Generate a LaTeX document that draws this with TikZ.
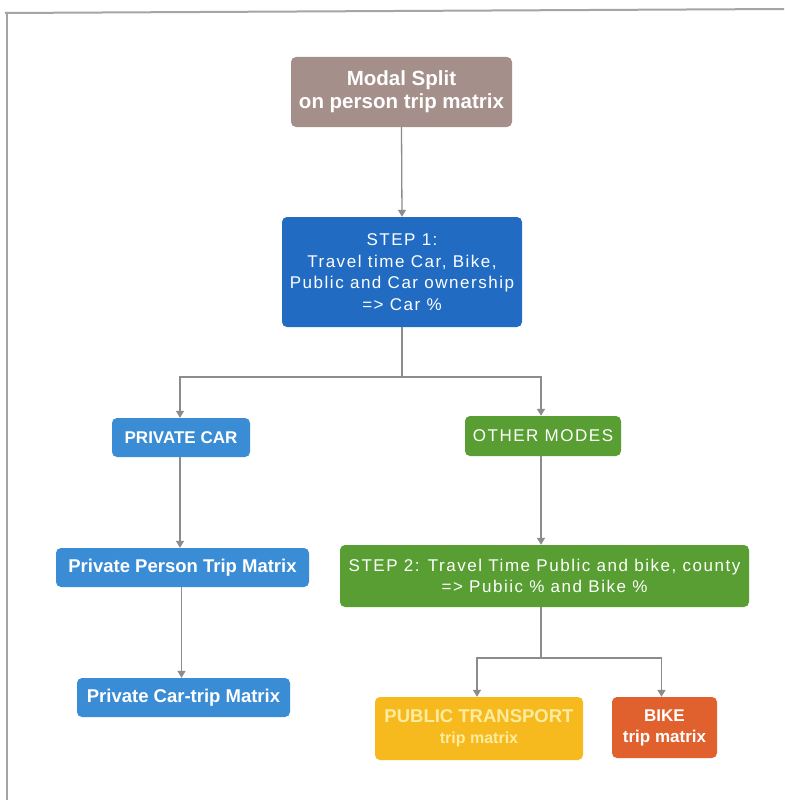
\documentclass[tikz,border=0pt]{standalone}
\usepackage{fontspec}
\setmainfont{Liberation Sans}
\newfontfamily\spacedfont[LetterSpace=9]{Liberation Sans}
\usetikzlibrary{arrows.meta,positioning}
\definecolor{taupe}{RGB}{164,143,138}
\definecolor{darkblue}{RGB}{33,108,194}
\definecolor{lightblue}{RGB}{58,141,213}
\definecolor{grn}{RGB}{88,158,50}
\definecolor{yel}{RGB}{247,186,30}
\definecolor{yeltext}{RGB}{253,236,160}
\definecolor{orng}{RGB}{224,96,46}
\definecolor{conn}{RGB}{140,140,140}
\definecolor{frame}{RGB}{165,165,165}
\begin{document}
\begin{tikzpicture}[x=1pt,y=-1pt,
  box/.style={rounded corners=5pt, inner sep=0pt, align=center, text=white},
  boldtext/.style={font=\fontsize{18.5}{21}\selectfont\bfseries},
  regtext/.style={font=\fontsize{17}{21.5}\selectfont\spacedfont},
  link/.style={draw=conn, line width=1.3pt, -{Triangle[width=8pt,length=7pt]}},
  plain/.style={draw=conn, line width=1.3pt}]
\useasboundingbox (0,0) rectangle (784,800);
\fill[white] (0,0) rectangle (784,800);
% frame
\draw[frame, line width=2pt] (5,13) -- (784,9);
\draw[frame, line width=2pt] (7,13) -- (7,800);
% nodes
\node[box, fill=taupe, minimum width=221pt, minimum height=70pt,
  font=\fontsize{20.5}{23}\selectfont\bfseries] (modal) at (401.5,92) {Modal Split\\on person trip matrix};
\node[box, fill=darkblue, minimum width=240pt, minimum height=110pt, regtext] (step1) at (402,272)
  {STEP 1:\\Travel time Car, Bike,\\Public and Car ownership\\=> Car \%};
\node[box, fill=lightblue, minimum width=138pt, minimum height=39pt,
  font=\fontsize{17}{20}\selectfont\bfseries] (pcar) at (181,437.5) {PRIVATE CAR};
\node[box, fill=grn, minimum width=156pt, minimum height=40pt, regtext] (other) at (543,436) {OTHER MODES};
\node[box, fill=lightblue, minimum width=253pt, minimum height=39pt, boldtext] (ppt) at (182.5,567.5) {Private Person Trip Matrix};
\node[box, fill=grn, minimum width=409pt, minimum height=62pt, regtext] (step2) at (544.5,576)
  {STEP 2: Travel Time Public and bike, county\\=> Pubiic \% and Bike \%};
\node[box, fill=lightblue, minimum width=213pt, minimum height=39pt, boldtext] (pct) at (183.5,697.5) {Private Car-trip Matrix};
\node[box, fill=yel, minimum width=208pt, minimum height=63pt, text=yeltext,
  font=\fontsize{18.5}{21}\selectfont\bfseries] (pt) at (479,728.5) {PUBLIC TRANSPORT\\{\fontsize{16}{20}\selectfont trip matrix}};
\node[box, fill=orng, minimum width=105pt, minimum height=61pt,
  font=\fontsize{17}{21}\selectfont\bfseries] (bike) at (664.5,727.5) {BIKE\\trip matrix};
% junctions
\coordinate (j1) at (402,377);
\coordinate (j2) at (541,658);
% connectors
\draw[link] (modal.south) -- (step1.north);
\draw[plain] (step1.south) -- (j1);
\draw[link] (j1) -| ([xshift=-1pt]pcar.north);
\draw[link] (j1) -| ([xshift=-2pt]other.north);
\draw[link] ([xshift=-1pt]pcar.south) -- ([xshift=-1pt]pcar.south |- ppt.north);
\draw[link] ([xshift=-1pt]ppt.south) -- ([xshift=-1pt]ppt.south |- pct.north);
\draw[link] ([xshift=-2pt]other.south) -- ([xshift=-2pt]other.south |- step2.north);
\draw[plain] (step2.south -| j2) -- (j2);
\draw[link] (j2) -| ([xshift=-2pt]pt.north);
\draw[link] (j2) -| ([xshift=-3pt]bike.north);
\end{tikzpicture}
\end{document}
